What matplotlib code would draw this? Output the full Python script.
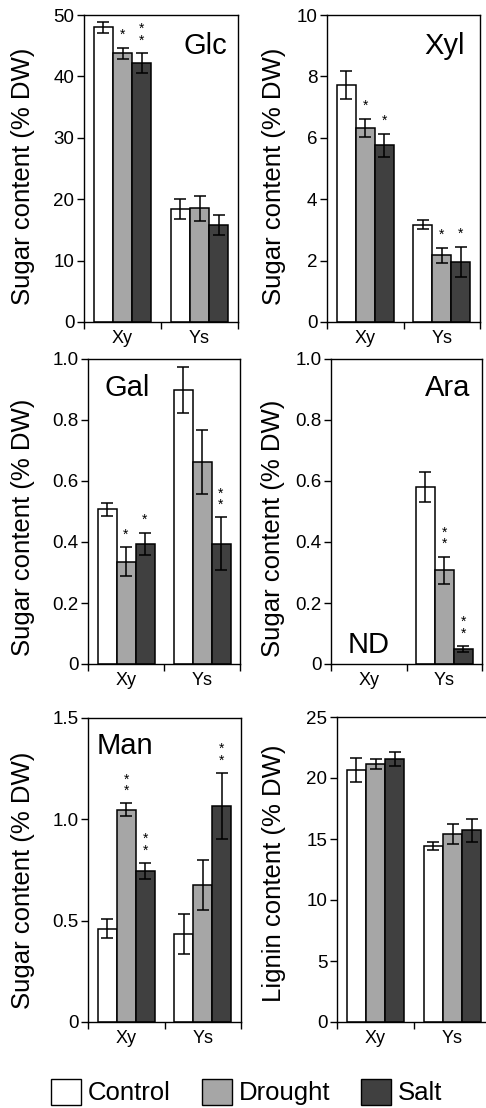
import numpy as np
import matplotlib
matplotlib.use('Agg')
import matplotlib.pyplot as plt
from matplotlib.patches import Patch

plt.rcParams['font.family'] = ['Liberation Sans', 'DejaVu Sans']

tissues = ['Xy', 'Ys']
treatments = ['Control', 'Drought', 'Salt']
colors = ['white', '#a6a6a6', '#404040']

# values per treatment: [Xy, Ys]
glc_mean = [[48.0, 18.4], [43.8, 18.5], [42.2, 15.8]]
glc_err = [[0.9, 1.6], [0.9, 2.0], [1.6, 1.6]]
glc_stars = [['', ''], ['*', ''], ['**', '']]

xyl_mean = [[7.73, 3.17], [6.32, 2.17], [5.75, 1.95]]
xyl_err = [[0.46, 0.15], [0.3, 0.25], [0.38, 0.5]]
xyl_stars = [['', ''], ['*', '*'], ['*', '*']]

gal_mean = [[0.507, 0.899], [0.336, 0.661], [0.395, 0.394]]
gal_err = [[0.022, 0.075], [0.048, 0.105], [0.036, 0.087]]
gal_stars = [['', ''], ['*', ''], ['*', '**']]

ara_mean = [[0.0, 0.579], [0.0, 0.307], [0.0, 0.049]]
ara_err = [[0.0, 0.049], [0.0, 0.045], [0.0, 0.01]]
ara_stars = [['', ''], ['', '**'], ['', '**']]

man_mean = [[0.461, 0.435], [1.047, 0.676], [0.746, 1.065]]
man_err = [[0.048, 0.1], [0.033, 0.124], [0.039, 0.164]]
man_stars = [['', ''], ['**', ''], ['**', '**']]

lig_mean = [[20.65, 14.42], [21.14, 15.43], [21.55, 15.7]]
lig_err = [[0.95, 0.33], [0.42, 0.83], [0.57, 0.97]]
lig_stars = [['', ''], ['', ''], ['', '']]

panels = [
    dict(mean=glc_mean, err=glc_err, stars=glc_stars, ymax=50, yticks=[0, 10, 20, 30, 40, 50],
         name='Glc', name_pos=(0.786, 0.90), ylabel='Sugar content (% DW)'),
    dict(mean=xyl_mean, err=xyl_err, stars=xyl_stars, ymax=10, yticks=[0, 2, 4, 6, 8, 10],
         name='Xyl', name_pos=(0.77, 0.90), ylabel='Sugar content (% DW)'),
    dict(mean=gal_mean, err=gal_err, stars=gal_stars, ymax=1.0, yticks=[0, 0.2, 0.4, 0.6, 0.8, 1.0],
         name='Gal', name_pos=(0.257, 0.905), ylabel='Sugar content (% DW)'),
    dict(mean=ara_mean, err=ara_err, stars=ara_stars, ymax=1.0, yticks=[0, 0.2, 0.4, 0.6, 0.8, 1.0],
         name='Ara', name_pos=(0.77, 0.905), ylabel='Sugar content (% DW)'),
    dict(mean=man_mean, err=man_err, stars=man_stars, ymax=1.5, yticks=[0, 0.5, 1.0, 1.5],
         name='Man', name_pos=(0.24, 0.908), ylabel='Sugar content (% DW)'),
    dict(mean=lig_mean, err=lig_err, stars=lig_stars, ymax=25, yticks=[0, 5, 10, 15, 20, 25],
         name='', name_pos=(0.5, 0.9), ylabel='Lignin content (% DW)'),
]

# axes boxes in pixels: left, right, top, bottom ; ylabel right edge x, ylabel center y
W, H = 486, 1108
boxes = [(84, 238, 15, 322, 35, 176),
         (327, 480, 15, 322, 286, 176),
         (88, 240, 359, 664, 35, 527),
         (331, 482, 359, 664, 285, 528),
         (88, 241, 718, 1022, 35, 880),
         (337, 491, 717, 1022, 286, 873)]

fig = plt.figure(figsize=(W / 100, H / 100), dpi=100)

def fmt(v, step):
    if v == 0:
        return '0'
    if step < 1:
        return '%.1f' % v
    return '%d' % v

width = 0.25
x = np.arange(len(tissues))
for p, (l, r, t, b, lx, ly) in zip(panels, boxes):
    ax = fig.add_axes([l / W, 1 - b / H, (r - l) / W, (b - t) / H])
    for i in range(3):
        xs = x + (i - 1) * width
        m = np.array(p['mean'][i])
        e = np.array(p['err'][i])
        show = m > 0
        ax.bar(xs[show], m[show], width, color=colors[i], edgecolor='black', linewidth=1.1, zorder=2)
        ax.errorbar(xs[show], m[show], yerr=e[show], fmt='none', ecolor='black',
                    elinewidth=1.1, capsize=4, capthick=1.1, zorder=3)
        for j in range(2):
            s = p['stars'][i][j]
            if s:
                ax.annotate('\n'.join(s), xy=(xs[j], m[j] + e[j]), xytext=(0, 4),
                            textcoords='offset points', ha='center', va='bottom',
                            fontsize=10, linespacing=0.75)
    ax.set_xlim(-0.5, 1.5)
    ax.set_ylim(0, p['ymax'])
    ax.set_xticks([-0.5, 0.5, 1.5])
    ax.set_xticklabels([])
    ax.set_xticks(x, minor=True)
    ax.set_xticklabels(tissues, minor=True, fontsize=13)
    ax.tick_params(axis='x', which='minor', length=0, pad=6)
    ax.tick_params(axis='x', which='major', length=5, width=1)
    step = p['yticks'][1] - p['yticks'][0]
    ax.set_yticks(p['yticks'])
    ax.set_yticklabels([fmt(v, step) for v in p['yticks']], fontsize=13.5)
    ax.tick_params(axis='y', length=5, width=1, pad=2)
    for sp in ax.spines.values():
        sp.set_linewidth(1.0)
    ax.set_ylabel(p['ylabel'], fontsize=18.5)
    ax.yaxis.set_label_coords((lx - l) / (r - l), (b - ly) / (b - t))
    if p['name']:
        ax.text(p['name_pos'][0], p['name_pos'][1], p['name'], transform=ax.transAxes,
                ha='center', va='center', fontsize=21)
    if p['name'] == 'Ara':
        ax.text(0, 0.062, 'ND', ha='center', va='center', fontsize=21,
                transform=ax.get_xaxis_transform())

handles = [Patch(facecolor=c, edgecolor='black', linewidth=1.0) for c in colors]
fig.legend(handles, treatments, loc='center', bbox_to_anchor=(0.508, 1 - 1092 / H), ncol=3,
           frameon=False, fontsize=18.5, handlelength=1.17, handleheight=1.17,
           handletextpad=0.27, columnspacing=1.2, borderpad=0)

fig.savefig('out.png', dpi=100)
